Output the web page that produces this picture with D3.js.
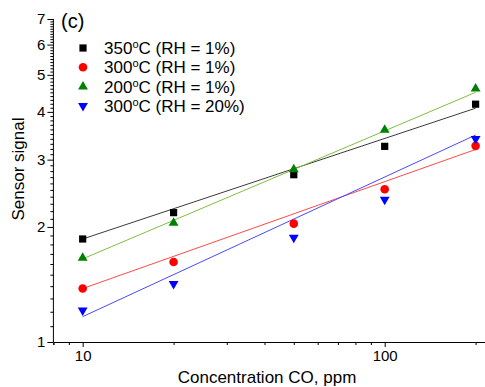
<!DOCTYPE html>
<html>
<head>
<meta charset="utf-8">
<script src="https://cdn.jsdelivr.net/npm/d3@7"></script>
<style>
  html, body { margin: 0; padding: 0; background: #fff; }
  svg { display: block; font-family: 'Liberation Sans', Arial, sans-serif; }
</style>
</head>
<body>
<div id="chart"></div>
<script>
// CO concentrations (ppm) and sensor signal per measurement condition
const concentrations = [10, 20, 50, 100, 200];
const signal350 = [1.86, 2.18, 2.74, 3.25, 4.19];
const signal300 = [1.38, 1.62, 2.04, 2.51, 3.26];
const signal200 = [1.66, 2.05, 2.83, 3.59, 4.6];
const signal300wet = [1.21, 1.42, 1.875, 2.36, 3.4];

// fitted lines, value at 10 ppm and at 200 ppm
const fitX = [10, 200];
const fit350 = [1.86, 4.09];
const fit300 = [1.38, 3.19];
const fit200 = [1.65, 4.5];
const fit300wet = [1.165, 3.48];

const seriesNames = ['350', '300', '200', '300'];
const seriesRH = ['1%', '1%', '1%', '20%'];

const xTickLabels = [10, 100];
const yTickLabels = [1, 2, 3, 4, 5, 6, 7];

const series = [
  { temp: seriesNames[0], rh: seriesRH[0], values: signal350, fit: fit350, symbol: d3.symbolSquare, colour: '#000000', line: '#3a3a3a', size: 52, rot: 0 },
  { temp: seriesNames[1], rh: seriesRH[1], values: signal300, fit: fit300, symbol: d3.symbolCircle, colour: '#ff0000', line: '#ff4a4a', size: 58, rot: 0 },
  { temp: seriesNames[2], rh: seriesRH[2], values: signal200, fit: fit200, symbol: d3.symbolTriangle, colour: '#008000', line: '#7fbf3f', size: 42, rot: 0 },
  { temp: seriesNames[3], rh: seriesRH[3], values: signal300wet, fit: fit300wet, symbol: d3.symbolTriangle, colour: '#0000ff', line: '#4a4aff', size: 42, rot: 180 }
];

const width = 485;
const height = 387;
const font = 'Liberation Sans, Arial, sans-serif';

const x = d3.scaleLog().domain([8, 215]).range([53.4, 485.1]);
const y = d3.scaleLog().domain([1, 7]).range([342, 19]);

const svg = d3.select('#chart').append('svg').attr('width', width).attr('height', height);

// x axis: minor then major ticks
const xMinor = x.ticks().filter((t) => !xTickLabels.includes(t));
svg
  .append('g')
  .attr('transform', `translate(0,${y(1)})`)
  .call(d3.axisBottom(x).tickValues(xMinor).tickSize(3).tickFormat(''));
svg
  .append('g')
  .attr('transform', `translate(0,${y(1)})`)
  .call(d3.axisBottom(x).tickValues(xTickLabels).tickSize(5).tickPadding(3).tickFormat(d3.format('d')))
  .call((g) => g.select('.domain').remove())
  .call((g) => g.selectAll('text').attr('font-size', 15).attr('fill', '#000').attr('font-family', font));

// y axis: minor ticks every 0.1, major ticks at integers
const yMinor = d3.range(11, 70).map((v) => v / 10).filter((v) => Math.abs(v - Math.round(v)) > 1e-6);
svg
  .append('g')
  .attr('transform', `translate(${x(8)},0)`)
  .call(d3.axisLeft(y).tickValues(yMinor).tickSize(3).tickFormat(''))
  .call((g) => g.select('.domain').attr('d', `M0,${y(7)}V${y(1)}`));
svg
  .append('g')
  .attr('transform', `translate(${x(8)},0)`)
  .call(d3.axisLeft(y).tickValues(yTickLabels).tickSize(6).tickPadding(2).tickFormat(d3.format('d')))
  .call((g) => g.select('.domain').remove())
  .call((g) => g.selectAll('text').attr('font-size', 15).attr('fill', '#000').attr('font-family', font));

// fit lines
const fitLine = d3
  .line()
  .x((d) => x(d[0]))
  .y((d) => y(d[1]));

series.forEach((s) => {
  svg
    .append('path')
    .datum(fitX.map((c, i) => [c, s.fit[i]]))
    .attr('fill', 'none')
    .attr('stroke', s.line)
    .attr('stroke-width', 1)
    .attr('d', fitLine);
});

// markers
series.forEach((s) => {
  svg
    .selectAll(null)
    .data(concentrations.map((c, i) => [c, s.values[i]]))
    .join('path')
    .attr('d', d3.symbol().type(s.symbol).size(s.size))
    .attr('transform', (d) => `translate(${x(d[0])},${y(d[1])}) rotate(${s.rot})`)
    .attr('fill', s.colour);
});

// legend
const legend = svg.append('g').attr('transform', 'translate(83,48)');
series.forEach((s, i) => {
  const row = legend.append('g').attr('transform', `translate(0,${i * 19.3})`);
  row
    .append('path')
    .attr('d', d3.symbol().type(s.symbol).size(s.size))
    .attr('transform', `rotate(${s.rot})`)
    .attr('fill', s.colour);
  const t = row.append('text').attr('x', 21).attr('y', 6).attr('font-size', 17).attr('fill', '#000');
  t.append('tspan').text(s.temp);
  t.append('tspan').attr('font-size', 11).attr('dy', -6).text('o');
  t.append('tspan').attr('dy', 6).text(`C (RH = ${s.rh})`);
});

svg
  .append('text')
  .attr('x', 61)
  .attr('y', 28)
  .attr('font-size', 20)
  .attr('fill', '#000')
  .text('(c)');

svg
  .append('text')
  .attr('transform', `translate(24,${169}) rotate(-90)`)
  .attr('text-anchor', 'middle')
  .attr('font-size', 17)
  .attr('fill', '#000')
  .text('Sensor signal');

svg
  .append('text')
  .attr('x', 267)
  .attr('y', 383)
  .attr('text-anchor', 'middle')
  .attr('font-size', 17)
  .attr('fill', '#000')
  .text('Concentration CO, ppm');
</script>
</body>
</html>
